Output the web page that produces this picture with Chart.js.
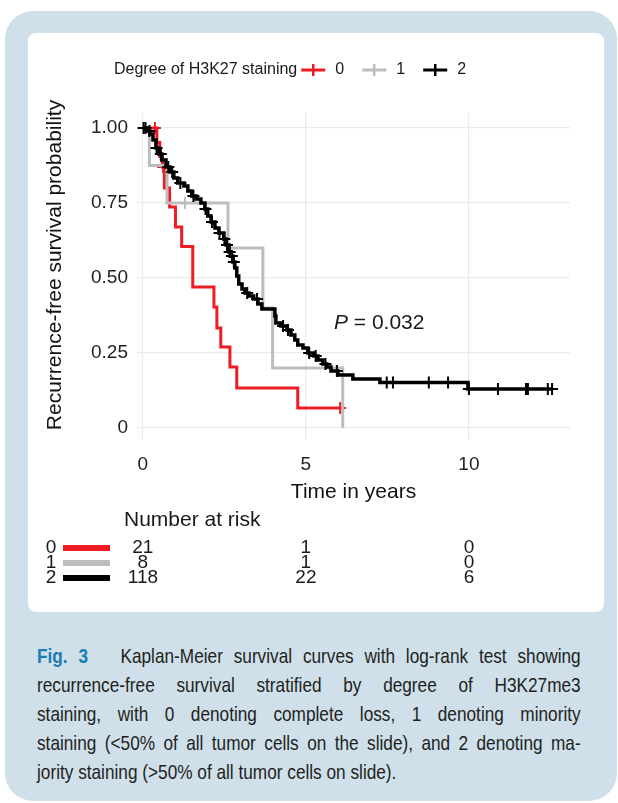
<!DOCTYPE html>
<html>
<head>
<meta charset="utf-8">
<script src="https://cdn.jsdelivr.net/npm/chart.js@4"></script>
<style>
  html, body { margin: 0; padding: 0; width: 618px; height: 803px; overflow: hidden; background: #fff; font-family: "Liberation Sans", Arial, sans-serif; }
  #frame { position: absolute; left: 5px; top: 11px; width: 612px; height: 790px; background: #cfe0ea; border-radius: 28px; }
  #panel { position: absolute; left: 28px; top: 33px; width: 576px; height: 579px; background: #fff; border-radius: 8px; }
  #chart { position: absolute; left: 0; top: 0; width: 576px; height: 579px; }
  #caption { position: absolute; left: 37px; top: 641px; width: 663px; transform: scaleX(0.82); transform-origin: 0 0; font-size: 21px; line-height: 29px; color: #231f20; }
  #caption .ln { text-align: justify; text-align-last: justify; }
  #caption .ln.last { text-align-last: left; }
  #caption b { color: #1b7db3; }
</style>
</head>
<body>
<div id="frame"></div>
<div id="panel"><canvas id="chart" width="576" height="579"></canvas></div>
<div id="caption">
  <div class="ln"><b>Fig. 3</b>&nbsp;&nbsp; Kaplan-Meier survival curves with log-rank test showing</div>
  <div class="ln">recurrence-free survival stratified by degree of H3K27me3</div>
  <div class="ln">staining, with 0 denoting complete loss, 1 denoting minority</div>
  <div class="ln">staining (&lt;50% of all tumor cells on the slide), and 2 denoting ma-</div>
  <div class="ln last">jority staining (&gt;50% of all tumor cells on slide).</div>
</div>
<script>
// ticks
const xTicks = [0, 5, 10];
const yTicks = [0, 0.25, 0.5, 0.75, 1];

const groups = ['0', '1', '2'];
const colors = ['#ed1c24', '#bdbdbd', '#000000'];

// group 0: complete loss
const time0 = [0, 0.43, 0.52, 0.60, 0.66, 0.82, 1.00, 1.19, 1.53, 2.18, 2.27, 2.39, 2.67, 2.88, 4.75, 6.05];
const surv0 = [1, 0.952, 0.905, 0.87, 0.80, 0.737, 0.67, 0.605, 0.47, 0.403, 0.333, 0.27, 0.203, 0.133, 0.067, 0.067];
const cens0T = [0.37, 0.62, 6.05];
const cens0S = [1, 0.87, 0.067];

// group 1: minority staining
const time1 = [0, 0.2, 0.74, 2.61, 3.68, 3.98, 6.13];
const surv1 = [1, 0.875, 0.75, 0.6, 0.4, 0.2, 0];
const cens1T = [1.29];
const cens1S = [0.75];

// group 2: majority staining
const time2 = [0, 0.15, 0.21, 0.31, 0.40, 0.49, 0.58, 0.71, 0.83, 0.95, 1.07, 1.26, 1.38, 1.50, 1.63, 1.78, 1.90, 1.99,
  2.09, 2.21, 2.33, 2.48, 2.55, 2.64, 2.70, 2.76, 2.82, 2.88, 2.94, 3.04, 3.13, 3.25, 3.40, 3.53, 3.65, 4.05, 4.08,
  4.23, 4.42, 4.54, 4.66, 4.75, 4.91, 5.06, 5.25, 5.37, 5.52, 5.64, 5.77, 5.98, 6.44, 7.27, 9.97, 12.55];
const surv2 = [1, 0.99, 0.98, 0.96, 0.933, 0.913, 0.893, 0.87, 0.853, 0.833, 0.817, 0.807, 0.79, 0.773, 0.763, 0.75, 0.73, 0.707,
  0.687, 0.667, 0.65, 0.63, 0.61, 0.587, 0.573, 0.553, 0.533, 0.507, 0.48, 0.463, 0.45, 0.44, 0.43, 0.413, 0.397, 0.373, 0.35,
  0.34, 0.327, 0.31, 0.293, 0.277, 0.267, 0.25, 0.24, 0.227, 0.213, 0.203, 0.19, 0.177, 0.163, 0.152, 0.13, 0.13];
const cens2T = [0.02, 0.08, 0.2, 0.42, 0.55, 0.78, 0.9, 1.15, 1.55, 1.92, 2.12, 2.35, 2.5, 2.58, 2.66, 2.73, 2.79,
  3.2, 3.5, 4.3, 4.45, 5.1, 5.3, 5.6, 5.95, 7.48, 7.67, 8.77, 9.36, 10.0, 10.89, 11.75, 11.81, 12.42, 12.55];
const cens2S = [1, 1, 0.99, 0.933, 0.913, 0.87, 0.853, 0.817, 0.773, 0.73, 0.687, 0.65, 0.63, 0.61, 0.587, 0.573, 0.553,
  0.45, 0.43, 0.34, 0.327, 0.25, 0.24, 0.213, 0.19, 0.152, 0.152, 0.152, 0.152, 0.13, 0.13, 0.13, 0.13, 0.13, 0.13];

// number at risk at xTicks
const risk0 = [21, 1, 0];
const risk1 = [8, 1, 0];
const risk2 = [118, 22, 6];

const pText = '0.032';
const yTitle = 'Recurrence-free survival probability';

const FONT = '"Liberation Sans", Arial, sans-serif';
Chart.defaults.font.family = FONT;

const toPts = (t, s) => t.map((v, i) => ({ x: v, y: s[i] }));
const curves = [[time0, surv0], [time1, surv1], [time2, surv2]];
const cens = [[cens0T, cens0S], [cens1T, cens1S], [cens2T, cens2S]];
const risks = [risk0, risk1, risk2];

const datasets = [];
groups.forEach((g, i) => {
  datasets.push({
    label: g,
    data: toPts(curves[i][0], curves[i][1]),
    borderColor: colors[i],
    borderWidth: i === 2 ? 3.5 : 3,
    stepped: 'before',
    pointRadius: 0,
    fill: false,
    order: 6 - 2 * i
  });
  datasets.push({
    label: g + ' censored',
    data: toPts(cens[i][0], cens[i][1]),
    showLine: false,
    pointStyle: 'cross',
    pointRadius: 6,
    pointBorderWidth: 2,
    borderColor: colors[i],
    order: 5 - 2 * i
  });
});

function drawCross(ctx, x, y, color) {
  ctx.save();
  ctx.strokeStyle = color;
  ctx.lineWidth = 3;
  ctx.beginPath();
  ctx.moveTo(x - 12, y);
  ctx.lineTo(x + 12, y);
  ctx.stroke();
  ctx.lineWidth = 2.5;
  ctx.beginPath();
  ctx.moveTo(x, y - 6);
  ctx.lineTo(x, y + 6);
  ctx.stroke();
  ctx.restore();
}

const legendPlugin = {
  id: 'kmLegend',
  afterDraw(chart) {
    const ctx = chart.ctx;
    const y = 37;
    ctx.save();
    ctx.font = '16px ' + FONT;
    ctx.fillStyle = '#1a1a1a';
    ctx.textBaseline = 'middle';
    ctx.textAlign = 'left';
    const title = 'Degree of H3K27 staining';
    ctx.fillText(title, 86, y);
    let x = 86 + ctx.measureText(title).width + 4;
    groups.forEach((g, i) => {
      drawCross(ctx, x + 12, y, colors[i]);
      ctx.fillStyle = '#1a1a1a';
      ctx.fillText(g, x + 34, y);
      x += 61;
    });
    ctx.restore();
  }
};

const yTitlePlugin = {
  id: 'yTitle',
  afterDraw(chart) {
    const ctx = chart.ctx;
    ctx.save();
    ctx.translate(27, 232);
    ctx.rotate(-Math.PI / 2);
    ctx.font = '21px ' + FONT;
    ctx.fillStyle = '#111';
    ctx.textAlign = 'center';
    ctx.textBaseline = 'middle';
    ctx.fillText(yTitle, 0, 0);
    ctx.restore();
  }
};

const annotPlugin = {
  id: 'pValue',
  afterDraw(chart) {
    const ctx = chart.ctx;
    const xs = chart.scales.x, ys = chart.scales.y;
    const x = xs.getPixelForValue(5.86);
    const y = ys.getPixelForValue(0.35);
    ctx.save();
    ctx.fillStyle = '#1a1a1a';
    ctx.textBaseline = 'middle';
    ctx.textAlign = 'left';
    ctx.font = 'italic 21px ' + FONT;
    ctx.fillText('P', x, y);
    const w = ctx.measureText('P').width;
    ctx.font = '21px ' + FONT;
    ctx.fillText(' = ' + pText, x + w, y);
    ctx.restore();
  }
};

const riskPlugin = {
  id: 'riskTable',
  afterDraw(chart) {
    const ctx = chart.ctx;
    const xs = chart.scales.x;
    ctx.save();
    ctx.fillStyle = '#1a1a1a';
    ctx.textBaseline = 'middle';
    ctx.font = '21px ' + FONT;
    ctx.textAlign = 'left';
    ctx.fillText('Number at risk', 96, 487);
    const rowY = [515, 530, 545];
    ctx.font = '19px ' + FONT;
    groups.forEach((g, i) => {
      ctx.fillStyle = '#1a1a1a';
      ctx.textAlign = 'center';
      ctx.fillText(g, 23, rowY[i]);
      ctx.fillStyle = colors[i];
      ctx.fillRect(35, rowY[i] - 3, 47, 6);
      ctx.fillStyle = '#1a1a1a';
      risks[i].forEach((n, j) => {
        ctx.fillText(String(n), xs.getPixelForValue(xTicks[j]), rowY[i]);
      });
    });
    ctx.restore();
  }
};

new Chart(document.getElementById('chart'), {
  type: 'line',
  data: { datasets },
  options: {
    responsive: false,
    maintainAspectRatio: false,
    animation: false,
    layout: { padding: { top: 80, right: 34, bottom: 0, left: 0 } },
    plugins: { legend: { display: false }, tooltip: { enabled: false } },
    scales: {
      x: {
        type: 'linear',
        min: -0.18,
        max: 13.1,
        afterBuildTicks: s => { s.ticks = xTicks.map(v => ({ value: v })); },
        afterFit: s => { s.height = 172; },
        grid: { color: '#ebebeb', lineWidth: 1.2, drawTicks: false },
        border: { display: false },
        ticks: { font: { size: 19 }, color: '#222', padding: 13, maxRotation: 0 },
        title: { display: true, text: 'Time in years', font: { size: 21 }, color: '#111', padding: { top: 0, bottom: 107 } }
      },
      y: {
        type: 'linear',
        min: -0.04,
        max: 1.05,
        afterBuildTicks: s => { s.ticks = yTicks.map(v => ({ value: v })); },
        afterFit: s => { s.width = 109; },
        grid: { color: '#ebebeb', lineWidth: 1.2, drawTicks: false },
        border: { display: false },
        ticks: { font: { size: 19 }, color: '#222', padding: 9, callback: v => v === 0 ? '0' : v.toFixed(2) },
        title: { display: false }
      }
    }
  },
  plugins: [legendPlugin, yTitlePlugin, annotPlugin, riskPlugin]
});
</script>
</body>
</html>
